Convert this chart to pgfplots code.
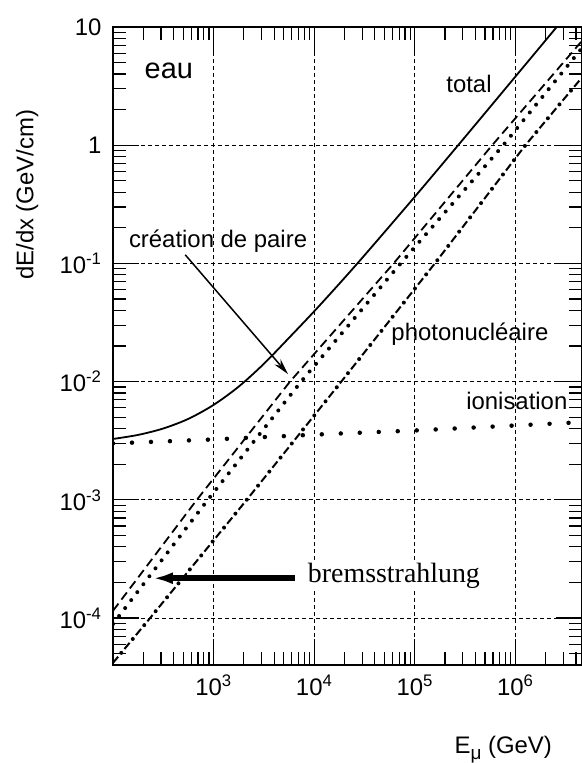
\documentclass[border=0pt]{standalone}
\usepackage{fontspec}
\setmainfont{Liberation Sans}
\newfontfamily\seriffont{Liberation Serif}
\usepackage{pgfplots}
\pgfplotsset{compat=1.18}
\usetikzlibrary{arrows.meta}

\begin{document}
\begin{tikzpicture}
\begin{axis}[
    scale only axis,
    width=469bp, height=638bp,
    xmode=log, ymode=log,
    xmin=100, xmax=4.6e6,
    ymin=4e-5, ymax=10,
    font=\fontsize{24}{28}\selectfont,
    axis line style={line width=1.4bp},
    tick style={line width=1.2bp, black},
    major tick length=26bp,
    minor tick length=13bp,
    xtick={1e2,1e3,1e4,1e5,1e6},
    xticklabels={,10\textsuperscript{3},10\textsuperscript{4},10\textsuperscript{5},10\textsuperscript{6}},
    minor xtick={200,300,400,500,600,700,800,900,
                 2000,3000,4000,5000,6000,7000,8000,9000,
                 2e4,3e4,4e4,5e4,6e4,7e4,8e4,9e4,
                 2e5,3e5,4e5,5e5,6e5,7e5,8e5,9e5,
                 2e6,3e6,4e6},
    ytick={1e-4,1e-3,1e-2,1e-1,1,10},
    yticklabels={10\textsuperscript{-4},10\textsuperscript{-3},10\textsuperscript{-2},10\textsuperscript{-1},1,10},
    minor ytick={5e-5,6e-5,7e-5,8e-5,9e-5,
                 2e-4,3e-4,4e-4,5e-4,6e-4,7e-4,8e-4,9e-4,
                 2e-3,3e-3,4e-3,5e-3,6e-3,7e-3,8e-3,9e-3,
                 2e-2,3e-2,4e-2,5e-2,6e-2,7e-2,8e-2,9e-2,
                 0.2,0.3,0.4,0.5,0.6,0.7,0.8,0.9,
                 2,3,4,5,6,7,8,9},
    xticklabel style={yshift=-6bp},
    yticklabel style={xshift=-8bp},
    xmajorgrids, ymajorgrids,
    major grid style={line width=0.8bp, dash pattern=on 4bp off 3bp, black},
    xlabel={E\raisebox{-6bp}{\fontsize{19}{20}\selectfont μ} (GeV)},
    xlabel style={at={(axis description cs:0.832,-0.138)}, anchor=base},
    ylabel={dE/dx (GeV/cm)},
    ylabel style={at={(axis description cs:-0.183,0.737)}, anchor=center},
]
% total
\addplot[line width=1.8bp, smooth] coordinates {
    (100,3.27e-3) (178,3.54e-3) (316,4.01e-3) (562,4.84e-3)
    (1000,6.35e-3) (1778,9.07e-3) (3162,1.414e-2) (5623,2.345e-2)
    (1e4,3.93e-2) (17783,6.73e-2) (31623,0.117) (1e5,0.366)
    (316228,1.173) (1e6,3.80) (2.512e6,9.74) (3.162e6,12.3)
};
% bremsstrahlung (tirets)
\addplot[line width=1.8bp, dash pattern=on 9bp off 5bp] coordinates {
    (100,1.15e-4) (682,1e-3) (5754,1e-2) (61660,0.1) (588844,1.0) (4.57e6,7.59)
};
% creation de paire (pointilles)
\addplot[line width=4bp, line cap=round, dash pattern=on 0bp off 10bp] coordinates {
    (100,8.9e-5) (877,1e-3) (7413,1e-2) (72444,0.1) (758578,1.0) (4.57e6,6.6)
};
% photonucleaire (tiret-point)
\addplot[line width=2bp, dash pattern=on 8bp off 10bp] coordinates {
    (100,4.17e-5) (234,1e-4) (2138,1e-3) (18621,1e-2) (158489,0.1) (1.259e6,1.0) (4.57e6,3.72)
};
\addplot[line width=4bp, line cap=round, dash pattern=on 0bp off 18bp, dash phase=5bp] coordinates {
    (100,4.17e-5) (234,1e-4) (2138,1e-3) (18621,1e-2) (158489,0.1) (1.259e6,1.0) (4.57e6,3.72)
};
% ionisation
\addplot[line width=4.5bp, line cap=round, dash pattern=on 0bp off 19bp] coordinates {
    (100,3.0e-3) (1000,3.24e-3) (17000,3.63e-3) (95500,3.85e-3) (3.24e6,4.47e-3) (4.6e6,4.52e-3)
};

\node[anchor=base] at (axis description cs:0.119,0.920) {\fontsize{29}{32}\selectfont eau};
\node[anchor=base] at (axis description cs:0.759,0.897) {total};
\node[anchor=base] at (axis description cs:0.224,0.655) {création de paire};
\node[anchor=base] at (axis description cs:0.761,0.509) {photonucléaire};
\node[anchor=base] at (axis description cs:0.861,0.400) {ionisation};
\node[anchor=base, fill=white, inner sep=3bp] at (axis description cs:0.599,0.130)
    {\seriffont\fontsize{28}{32}\selectfont bremsstrahlung};
\draw[line width=1.5bp, -{Stealth[length=16bp,width=8bp]}]
    (axis description cs:0.154,0.643) -- (axis description cs:0.373,0.456);
\draw[line width=6bp, -{Latex[length=20bp,width=12bp]}]
    (axis description cs:0.388,0.136) -- (axis description cs:0.085,0.136);
\end{axis}
\pgfresetboundingbox
\path ([shift={(-113bp,-98bp)}]current axis.south west) rectangle ([shift={(0bp,27bp)}]current axis.north east);
\end{tikzpicture}
\end{document}
